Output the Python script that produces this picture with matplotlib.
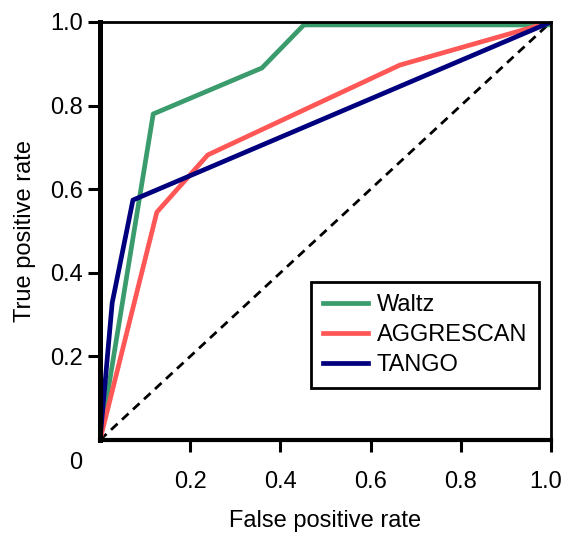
import matplotlib
matplotlib.use("Agg")
import matplotlib.pyplot as plt
import matplotlib.transforms as mtransforms

plt.rcParams['font.family'] = ['Liberation Sans', 'DejaVu Sans']

# ROC curves
waltz_fpr = [0.0, 0.118, 0.359, 0.452, 1.0]
waltz_tpr = [0.0, 0.78, 0.89, 0.993, 0.993]
aggrescan_fpr = [0.0, 0.126, 0.239, 0.665, 1.0]
aggrescan_tpr = [0.0, 0.545, 0.682, 0.897, 1.0]
tango_fpr = [0.0, 0.027, 0.073, 1.0]
tango_tpr = [0.0, 0.328, 0.574, 1.0]
ticks = [0.2, 0.4, 0.6, 0.8, 1.0]
tick_labels = ["0.2", "0.4", "0.6", "0.8", "1.0"]

fig = plt.figure(figsize=(5.64, 5.36), dpi=100)
ax = fig.add_axes([100/564, 1-440/536, 451/564, 418/536])

ax.plot([0, 1], [0, 1], color='black', lw=2.0, ls=(0, (3.2, 2.2)), zorder=2)
ax.plot(waltz_fpr, waltz_tpr, color='#3a9b6c', lw=3.4, label='Waltz', zorder=3)
ax.plot(aggrescan_fpr, aggrescan_tpr, color='#ff5656', lw=3.4, label='AGGRESCAN', zorder=3)
ax.plot(tango_fpr, tango_tpr, color='#00007f', lw=3.4, label='TANGO', zorder=4)

ax.set_xlim(0, 1)
ax.set_ylim(0, 1)
ax.set_xticks(ticks)
ax.set_xticklabels(tick_labels)
ax.set_yticks(ticks)
ax.set_yticklabels(tick_labels)
ax.tick_params(axis='x', length=8.5, width=2.2, labelsize=17, pad=14)
ax.tick_params(axis='y', length=8.5, width=2.2, labelsize=17, pad=4)

# last x label sits a bit left so it stays inside the figure
last = ax.get_xticklabels()[-1]
last.set_transform(last.get_transform() + mtransforms.ScaledTranslation(-5/100, 0, fig.dpi_scale_trans))

ax.spines['left'].set_linewidth(3.6)
ax.spines['bottom'].set_linewidth(3.0)
ax.spines['top'].set_linewidth(2.0)
ax.spines['right'].set_linewidth(2.0)
for s in ax.spines.values():
    s.set_zorder(5)

ax.text(-0.055, -0.055, "0", transform=ax.transAxes, ha='center', va='center', fontsize=17)

ax.set_xlabel("False positive rate", fontsize=17, labelpad=12)
ax.set_ylabel("True positive rate", fontsize=17, labelpad=10)

leg = ax.legend(loc='upper right', bbox_to_anchor=(0.973, 0.378), fontsize=17,
                frameon=True, fancybox=False, edgecolor='black', framealpha=1,
                handlelength=1.9, labelspacing=0.35, borderpad=0.5,
                handletextpad=0.38, borderaxespad=0)
leg.get_frame().set_linewidth(2.0)

fig.savefig("out.png", dpi=100)
